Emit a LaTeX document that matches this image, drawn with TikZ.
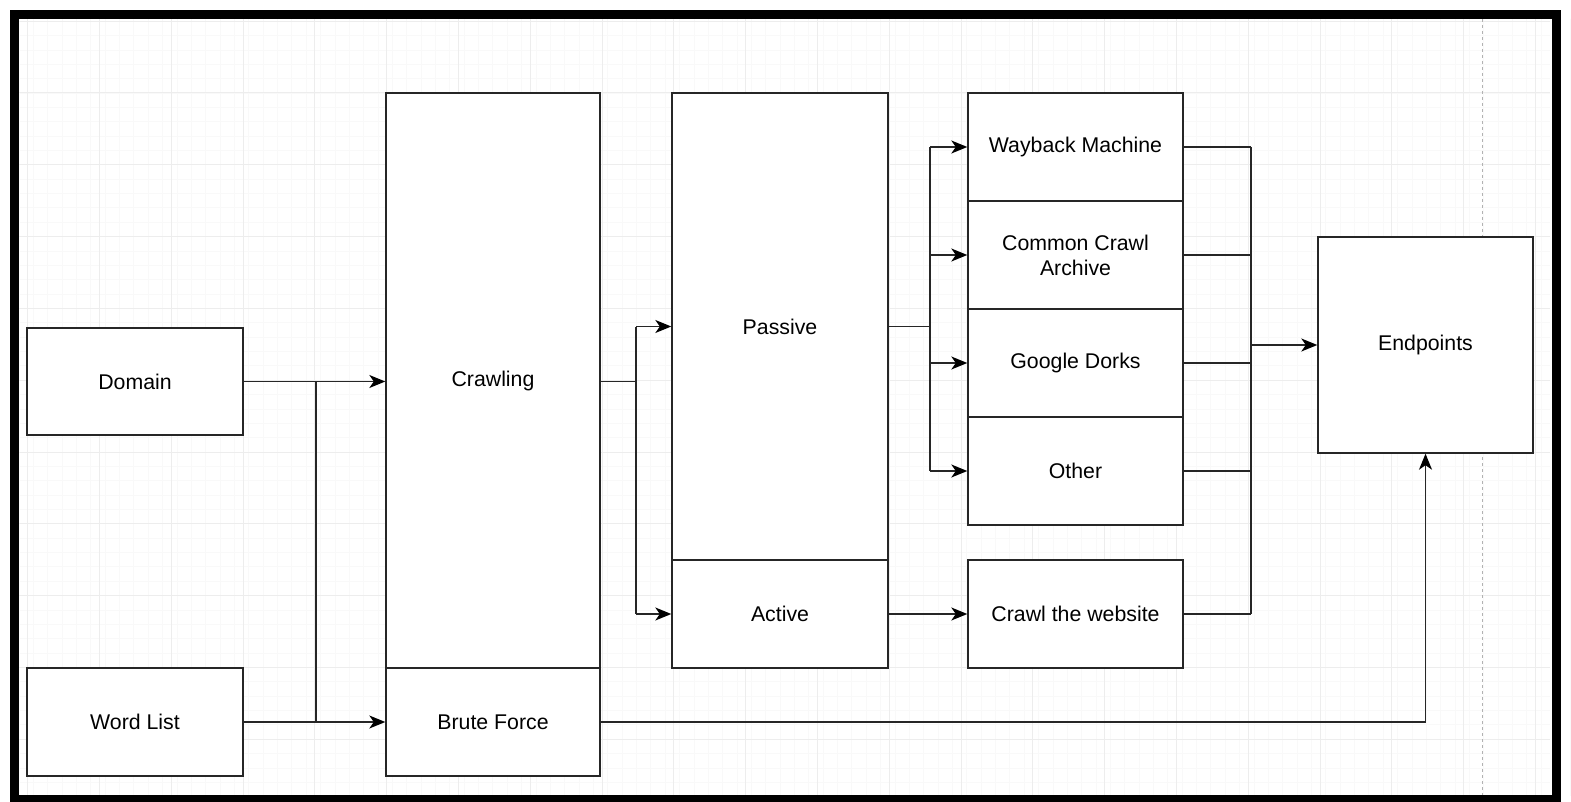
\documentclass[tikz,border=0pt]{standalone}
\usepackage{fontspec}
\setmainfont{Liberation Sans}
\usetikzlibrary{arrows.meta}
\begin{document}
\begin{tikzpicture}[x=1pt,y=-1pt,
  box/.style={draw=black!85,line width=1.4pt,fill=white,inner sep=0pt,align=center,
    font=\fontsize{21.3}{25}\selectfont},
  conn/.style={draw=black!85,line width=1.4pt},
  arr/.style={conn,-{Stealth[length=16pt,width=13pt,inset=4.5pt,color=black]}}]
\useasboundingbox (0,0) rectangle (1571,802);
\fill[white] (0,0) rectangle (1571,802);
% grid
\foreach \i in {0,...,110}{\draw[black!2.5,line width=0.8pt] ({19+\i*14.36},19) -- ({19+\i*14.36},796);}
\foreach \i in {0,...,55}{\draw[black!2.5,line width=0.8pt] (19,{21.2+\i*14.36}) -- (1550,{21.2+\i*14.36});}
\foreach \i in {0,...,21}{\draw[black!7,line width=1pt] ({27.6+\i*71.8},19) -- ({27.6+\i*71.8},796);}
\foreach \i in {0,...,11}{\draw[black!7,line width=1pt] (19,{21.2+\i*71.8}) -- (1550,{21.2+\i*71.8});}
\draw[black!30,dashed,line width=1pt] (1482,19) -- (1482,796);
% border
\draw[black,line width=9pt] (14.5,14.5) rectangle (1556,799);
% nodes
\node[box,minimum width=216pt,minimum height=107pt] (domain) at (135,381.5) {Domain};
\node[box,minimum width=216pt,minimum height=108pt] (wordlist) at (135,722) {Word List};
\node[box,minimum width=214pt,minimum height=575pt] (crawl) at (493,380.5) {Crawling};
\node[box,minimum width=214pt,minimum height=108pt] (brute) at (493,722) {Brute Force};
\node[box,minimum width=216pt,minimum height=467pt] (passive) at (780,326.5) {Passive};
\node[box,minimum width=216pt,minimum height=108pt] (active) at (780,614) {Active};
\node[box,minimum width=215pt,minimum height=108pt] (wayback) at (1075.5,147) {Wayback Machine};
\node[box,minimum width=215pt,minimum height=108pt] (common) at (1075.5,255) {Common Crawl\\Archive};
\node[box,minimum width=215pt,minimum height=108pt] (google) at (1075.5,363) {Google Dorks};
\node[box,minimum width=215pt,minimum height=108pt] (other) at (1075.5,471) {Other};
\node[box,minimum width=215pt,minimum height=108pt] (crawlweb) at (1075.5,614) {Crawl the website};
\node[box,minimum width=215pt,minimum height=216pt] (ep) at (1425.5,345) {Endpoints};
% junction coordinates
\coordinate (j1) at (316,0);
\coordinate (j2) at (636,0);
\coordinate (j3) at (930,0);
\coordinate (j4) at (1251,0);
% connectors
\draw[arr] (domain.east) -- (domain.east -| crawl.west);
\draw[arr] (wordlist.east) -- (wordlist.east -| brute.west);
\draw[conn] (j1 |- domain.east) -- (j1 |- wordlist.east);
\draw[conn] (crawl.east |- domain.east) -- (j2 |- domain.east);
\draw[arr] (j2 |- passive.west) -- (passive.west);
\draw[arr] (j2 |- active.west) -- (active.west);
\draw[conn] (j2 |- passive.west) -- (j2 |- active.west);
\draw[conn] (passive.east) -- (j3 |- passive.east);
\draw[conn] (j3 |- wayback.west) -- (j3 |- other.west);
\foreach \n in {wayback,common,google,other}{
  \draw[arr] (j3 |- \n.west) -- (\n.west);
  \draw[conn] (\n.east) -- (j4 |- \n.east);
}
\draw[arr] (active.east) -- (crawlweb.west);
\draw[conn] (crawlweb.east) -- (j4 |- crawlweb.east);
\draw[conn] (j4 |- wayback.east) -- (j4 |- crawlweb.east);
\draw[arr] (j4 |- ep.west) -- (ep.west);
\draw[arr] (brute.east) -| (ep.south);
\end{tikzpicture}
\end{document}
